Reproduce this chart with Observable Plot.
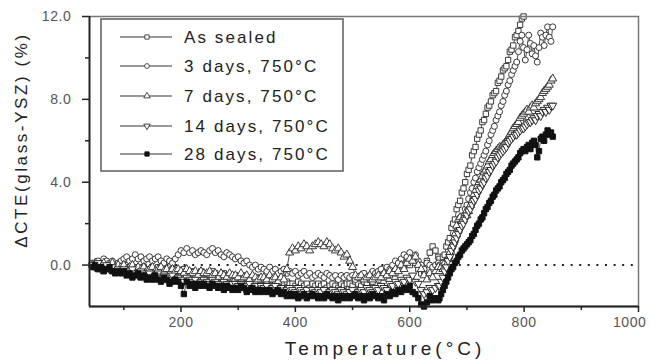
<!DOCTYPE html>
<html><head><meta charset="utf-8">
<script src="https://cdn.jsdelivr.net/npm/d3@7"></script>
<script src="https://cdn.jsdelivr.net/npm/@observablehq/plot@0.6"></script>
<style>body{margin:0;background:#fff;} #chart svg{display:block;}</style>
</head><body><div id="chart"></div>
<script>
const seriesNames = ["As sealed", "3 days, 750°C", "7 days, 750°C", "14 days, 750°C", "28 days, 750°C"];
// temperature grid (°C): 5-degree steps below 650, 3-degree steps on the rise
const flatTemps = d3.range(45, 651, 5);
const riseTemps = d3.range(652, 851, 3);

const asSealed = [
 0.0,-0.1,0.1,0.0,-0.1,0.1,0.0,-0.1,-0.1,0.0,
 -0.1,-0.2,0.0,-0.1,-0.2,-0.1,-0.2,-0.3,-0.1,-0.2,
 -0.2,-0.3,-0.2,-0.1,-0.3,-0.2,-0.4,-0.3,-0.2,-0.3,
 -0.3,-0.4,-0.2,-0.3,-0.4,-0.3,-0.5,-0.4,-0.3,-0.4,
 -0.4,-0.5,-0.3,-0.4,-0.5,-0.6,-0.4,-0.5,-0.6,-0.5,
 -0.5,-0.6,-0.7,-0.5,-0.6,-0.7,-0.6,-0.8,-0.6,-0.7,
 -0.7,-0.8,-0.6,-0.7,-0.9,-0.8,-0.7,-0.9,-0.8,-0.9,
 -0.9,-1.0,-0.8,-0.9,-1.0,-0.9,-1.1,-0.9,-1.0,-0.9,
 -1.0,-0.9,-1.1,-1.0,-0.9,-1.0,-1.1,-0.9,-1.0,-0.9,
 -0.9,-1.0,-0.8,-0.9,-1.0,-0.8,-0.9,-0.7,-0.8,-0.6,
 -0.7,-0.5,-0.6,-0.3,-0.5,-0.2,-0.4,-0.1,0.1,-0.1,
 0.2,0.0,0.3,0.1,-0.2,-0.4,-0.3,0.2,0.6,0.9,
 0.7,0.4,
 0.3,0.1,0.4,0.5,0.9,1.1,1.3,1.8,2.0,2.2,
 2.7,2.9,3.1,3.5,3.7,4.0,4.4,4.6,4.8,5.3,
 5.5,5.7,6.1,6.3,6.5,6.9,7.0,7.3,7.6,7.7,
 7.9,8.2,8.3,8.4,8.8,8.9,9.1,9.4,9.5,9.6,
 9.9,10.3,10.4,10.6,11.0,11.1,11.3,11.6,11.9,12.0
];
const days3 = [
 0.1,0.0,0.2,0.1,0.3,0.2,0.1,0.2,0.0,0.1,
 0.2,0.3,0.4,0.2,0.3,0.5,0.3,0.4,0.2,0.3,
 0.4,0.2,0.3,0.4,0.2,0.1,0.3,0.2,0.1,0.3,
 0.5,0.7,0.6,0.8,0.6,0.7,0.5,0.6,0.7,0.6,
 0.5,0.7,0.8,0.6,0.7,0.5,0.4,0.6,0.5,0.4,
 0.3,0.4,0.2,0.1,0.2,0.0,-0.1,0.0,-0.2,-0.1,
 -0.2,-0.3,-0.1,-0.3,-0.2,-0.4,-0.3,-0.2,-0.4,-0.3,
 -0.4,-0.3,-0.5,-0.4,-0.3,-0.5,-0.4,-0.6,-0.5,-0.4,
 -0.5,-0.6,-0.4,-0.5,-0.6,-0.5,-0.7,-0.5,-0.6,-0.5,
 -0.6,-0.5,-0.7,-0.6,-0.5,-0.4,-0.6,-0.5,-0.3,-0.4,
 -0.3,-0.2,-0.4,-0.1,-0.2,0.0,0.2,0.1,0.3,0.5,
 0.4,0.6,0.3,0.5,0.2,0.0,-0.2,0.1,0.0,-0.1,
 0.0,0.1,
 0.0,-0.1,0.1,0.0,0.2,0.3,0.4,0.6,0.9,1.1,
 1.4,1.6,1.9,2.2,2.4,2.7,2.9,3.2,3.5,3.7,
 4.0,4.2,4.5,4.7,4.9,5.1,5.3,5.5,5.8,6.0,
 6.3,6.5,6.7,7.0,7.2,7.4,7.7,7.9,8.2,8.4,
 8.7,8.9,9.2,9.4,9.6,9.8,10.3,10.8,11.1,10.5,
 9.9,10.4,11.1,10.7,10.2,10.6,10.1,9.8,10.5,11.2,
 11.0,10.6,11.1,11.5,11.0,10.8,11.5
];
const days7 = [
 0.0,0.1,-0.1,0.0,0.1,-0.1,0.0,0.1,-0.1,0.0,
 -0.1,0.0,-0.2,-0.1,0.0,-0.2,-0.1,-0.2,-0.1,-0.3,
 -0.2,-0.1,-0.3,-0.2,-0.1,-0.3,-0.2,-0.4,-0.2,-0.3,
 -0.2,-0.3,-0.4,-0.2,-0.3,-0.4,-0.3,-0.5,-0.3,-0.4,
 -0.4,-0.3,-0.5,-0.4,-0.6,-0.4,-0.5,-0.6,-0.4,-0.5,
 -0.5,-0.6,-0.4,-0.6,-0.5,-0.7,-0.5,-0.6,-0.7,-0.6,
 -0.6,-0.7,-0.5,-0.7,-0.6,-0.8,-0.6,-0.7,-0.2,0.6,
 0.8,0.7,0.9,0.8,1.0,0.9,0.7,0.9,1.0,1.1,
 1.0,0.9,1.1,1.0,0.8,0.7,0.8,0.6,0.4,0.5,
 0.2,-0.1,-0.5,-0.6,-0.5,-0.7,-0.6,-0.5,-0.7,-0.6,
 -0.5,-0.6,-0.4,-0.5,-0.3,-0.4,-0.2,-0.3,0.0,-0.2,
 0.1,0.3,0.2,0.4,0.0,-0.2,-0.5,-0.7,-0.4,-0.6,
 -0.3,-0.1,
 -0.3,-0.1,-0.2,0.1,0.0,0.3,0.6,0.9,1.2,1.5,
 1.9,2.2,2.3,2.1,2.3,2.5,2.4,2.6,2.9,3.1,
 3.4,3.6,3.8,4.0,4.1,4.3,4.5,4.6,4.8,5.0,
 5.1,5.3,5.4,5.5,5.6,5.7,5.7,5.8,5.9,6.0,
 6.1,6.3,6.4,6.6,6.7,6.8,6.9,7.1,7.2,7.3,
 7.4,7.5,7.4,7.6,7.7,7.6,7.8,7.9,8.0,8.1,
 8.3,8.4,8.5,8.6,8.7,8.9,9.0
];
const days14 = [
 0.0,-0.1,0.1,-0.2,-0.1,0.0,-0.2,-0.1,-0.3,-0.2,
 -0.3,-0.2,-0.4,-0.3,-0.2,-0.4,-0.5,-0.3,-0.4,-0.5,
 -0.4,-0.6,-0.5,-0.4,-0.6,-0.5,-0.7,-0.6,-0.5,-0.7,
 -0.6,-0.7,-0.8,-0.6,-0.7,-0.8,-0.7,-0.9,-0.8,-0.7,
 -0.8,-0.9,-0.7,-0.8,-0.9,-1.0,-0.8,-0.9,-1.0,-0.9,
 -0.9,-1.0,-0.9,-1.1,-1.0,-0.9,-1.1,-1.0,-1.2,-1.0,
 -1.1,-1.0,-1.2,-1.1,-1.0,-1.2,-1.1,-1.3,-1.2,-1.1,
 -1.2,-1.3,-1.1,-1.2,-1.3,-1.2,-1.4,-1.2,-1.3,-1.2,
 -1.3,-1.2,-1.4,-1.3,-1.2,-1.3,-1.4,-1.2,-1.3,-1.4,
 -1.3,-1.2,-1.4,-1.3,-1.2,-1.3,-1.1,-1.2,-1.3,-1.1,
 -1.2,-1.0,-1.1,-1.2,-0.9,-1.0,-0.8,-0.9,-0.7,-0.8,
 -0.6,-0.7,-0.5,-0.8,-0.9,-1.2,-1.4,-1.3,-1.1,-1.2,
 -1.1,-1.0,
 -1.0,-0.8,-0.6,-0.3,-0.1,0.2,0.4,0.7,0.9,1.1,
 1.3,1.5,1.7,1.9,2.0,2.2,2.4,2.6,2.7,2.9,
 3.1,3.2,3.4,3.6,3.7,3.9,4.0,4.2,4.3,4.5,
 4.6,4.8,4.9,5.0,5.2,5.3,5.4,5.5,5.6,5.7,
 5.9,6.0,6.1,6.2,6.3,6.3,6.4,6.5,6.6,6.6,
 6.7,6.8,6.9,6.9,7.0,7.1,7.0,7.2,7.3,7.2,
 7.4,7.5,7.4,7.6,7.5,7.7,7.7
];
const days28 = [
 -0.1,0.0,-0.2,-0.1,-0.3,-0.2,-0.1,-0.3,-0.4,-0.3,
 -0.4,-0.3,-0.5,-0.4,-0.6,-0.5,-0.4,-0.6,-0.5,-0.7,
 -0.6,-0.7,-0.5,-0.7,-0.8,-0.6,-0.7,-0.9,-0.8,-0.7,
 -0.8,-1.0,-1.4,-0.8,-1.0,-0.9,-1.1,-0.9,-1.0,-0.9,
 -1.0,-1.1,-0.9,-1.0,-1.1,-1.0,-1.2,-1.0,-1.1,-1.2,
 -1.1,-1.2,-1.0,-1.1,-1.3,-1.2,-1.1,-1.3,-1.2,-1.3,
 -1.2,-1.3,-1.2,-1.4,-1.3,-1.2,-1.4,-1.3,-1.5,-1.4,
 -1.5,-1.4,-1.6,-1.5,-1.4,-1.6,-1.5,-1.4,-1.5,-1.6,
 -1.5,-1.6,-1.4,-1.5,-1.6,-1.5,-1.7,-1.5,-1.6,-1.5,
 -1.6,-1.5,-1.4,-1.6,-1.5,-1.7,-1.5,-1.6,-1.4,-1.5,
 -1.6,-1.5,-1.7,-1.4,-1.5,-1.3,-1.4,-1.2,-1.3,-1.1,
 -1.2,-1.0,-1.3,-1.4,-1.6,-1.9,-2.0,-1.8,-1.5,-1.7,
 -1.6,-1.7,
 -1.6,-1.4,-1.2,-1.0,-0.8,-0.6,-0.4,-0.2,-0.1,0.1,
 0.2,0.4,0.5,0.7,0.8,0.9,1.0,1.1,1.2,1.4,
 1.5,1.7,1.9,2.0,2.2,2.3,2.5,2.7,2.8,3.0,
 3.1,3.3,3.4,3.6,3.7,3.8,4.0,4.1,4.2,4.4,
 4.5,4.6,4.8,4.9,5.0,5.1,5.2,5.4,5.5,5.6,
 5.5,5.7,5.8,5.6,5.9,6.0,5.8,5.2,5.5,6.1,
 6.2,6.0,6.3,6.5,6.3,6.4,6.2
];

const xTicks = [200, 400, 600, 800, 1000];
const xMinorTicks = [100, 300, 500, 700, 900];
const yTicks = [0, 4, 8, 12];
const yMinorTicks = [2, 6, 10];

const temps = flatTemps.concat(riseTemps);
const series = [
  {name: seriesNames[0], values: asSealed, symbol: "square", rotate: 0, fill: "white", stroke: "#3a3a3a"},
  {name: seriesNames[1], values: days3, symbol: "circle", rotate: 0, fill: "white", stroke: "#3a3a3a"},
  {name: seriesNames[2], values: days7, symbol: "triangle", rotate: 0, fill: "white", stroke: "#3a3a3a"},
  {name: seriesNames[3], values: days14, symbol: "triangle", rotate: 180, fill: "white", stroke: "#2a2a2a"},
  {name: seriesNames[4], values: days28, symbol: "square", rotate: 0, fill: "#111", stroke: "#111"}
];

const marks = [Plot.ruleY([0], {stroke: "#222", strokeWidth: 2, strokeDasharray: "2,6.6"})];
for (const s of series) {
  const data = s.values.map((v, i) => ({T: temps[i], v, series: s.name}));
  marks.push(Plot.line(data, {x: "T", y: "v", stroke: "#222", strokeWidth: 0.8}));
  marks.push(Plot.dot(data, {x: "T", y: "v", symbol: s.symbol, r: 3, fill: s.fill, stroke: s.stroke, strokeWidth: 1, rotate: s.rotate}));
}
marks.push(
  Plot.frame({stroke: "#777", strokeWidth: 1.5}),
  Plot.ruleX([40], {stroke: "#222", strokeWidth: 1.8}),
  Plot.ruleY([-2], {stroke: "#222", strokeWidth: 1.8}),
  Plot.axisX({ticks: xTicks, tickSize: 6, tickPadding: 5, tickFormat: d3.format("d"), label: null, stroke: "#222", strokeWidth: 1.5, fill: "#555"}),
  Plot.axisX({ticks: xMinorTicks, tickSize: 4, tickFormat: () => "", label: null, stroke: "#222", strokeWidth: 1.5}),
  Plot.axisY({ticks: yTicks, tickSize: 7, tickPadding: 11, tickFormat: d3.format(".1f"), label: null, stroke: "#222", strokeWidth: 1.5, fill: "#555"}),
  Plot.axisY({ticks: yMinorTicks, tickSize: 4, tickFormat: () => "", label: null, stroke: "#222", strokeWidth: 1.5})
);

const chart = Plot.plot({
  width: 650, height: 362,
  marginLeft: 89, marginRight: 12, marginTop: 16, marginBottom: 56,
  x: {domain: [40, 1000]},
  y: {domain: [-2, 12]},
  style: {fontFamily: "'Liberation Sans', Arial, sans-serif", fontSize: "14px", letterSpacing: "0.6px", background: "white"},
  marks
});
document.getElementById("chart").appendChild(chart);

const svg = d3.select(chart);
// keep the last x tick label inside the picture
svg.selectAll("text").filter(function() { return this.textContent === "1000"; })
  .attr("text-anchor", "end").attr("dx", 8);

// axis titles
svg.append("text").attr("transform", "translate(27,140) rotate(-90)")
  .attr("text-anchor", "middle").attr("font-size", 17).attr("letter-spacing", "2.6px")
  .attr("fill", "#222").text("ΔCTE(glass-YSZ) (%)");
svg.append("text").attr("x", 385).attr("y", 355)
  .attr("text-anchor", "middle").attr("font-size", 19).attr("letter-spacing", "4px")
  .attr("fill", "#222").text("Temperature(°C)");

// legend
const lg = svg.append("g");
lg.append("rect").attr("x", 101).attr("y", 19).attr("width", 242).attr("height", 152)
  .attr("fill", "white").attr("stroke", "#666").attr("stroke-width", 1.6);
const rowY = [37, 66, 96, 126, 154];
series.forEach((s, i) => {
  const y = rowY[i];
  lg.append("line").attr("x1", 120).attr("x2", 172).attr("y1", y).attr("y2", y)
    .attr("stroke", "#333").attr("stroke-width", 1.2);
  const sym = {square: d3.symbolSquare, circle: d3.symbolCircle, triangle: d3.symbolTriangle}[s.symbol];
  lg.append("path").attr("d", d3.symbol(sym, Math.PI * 2.4 * 2.4)())
    .attr("transform", `translate(147,${y}) rotate(${s.rotate})`)
    .attr("fill", s.fill).attr("stroke", s.stroke).attr("stroke-width", 0.9);
  lg.append("text").attr("x", 184).attr("y", y).attr("dy", "0.36em").attr("text-anchor", "start")
    .attr("font-size", 17).attr("letter-spacing", "2.1px").attr("fill", "#222").text(s.name);
});
</script>
</body></html>
